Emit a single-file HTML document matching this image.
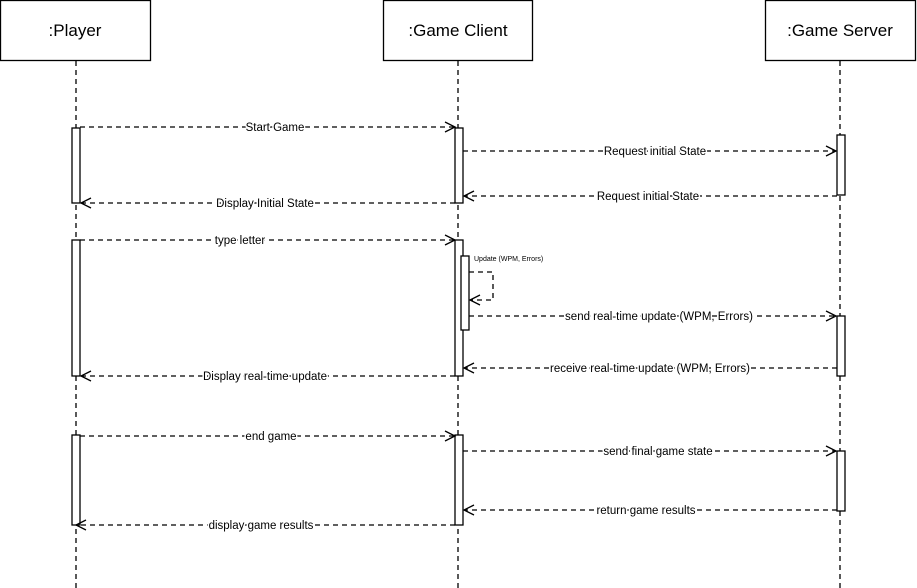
<!DOCTYPE html>
<html><head><style>body{margin:0;background:#fff}svg{display:block}</style></head>
<body>
<svg width="917" height="588" xmlns="http://www.w3.org/2000/svg" font-family="Liberation Sans, Arial, sans-serif">
<rect width="917" height="588" fill="#fff"/>
<g fill="#fff" stroke="#000" stroke-width="1.3">
<rect x="0.5" y="0.5" width="150" height="60"/>
<rect x="383.5" y="0.5" width="149" height="60"/>
<rect x="765.5" y="0.5" width="150" height="60"/>
</g>
<g font-size="17" text-anchor="middle" fill="#000">
<text x="75" y="36">:Player</text>
<text x="458" y="36">:Game Client</text>
<text x="840" y="36">:Game Server</text>
</g>
<g stroke="#000" stroke-width="1.3" stroke-dasharray="5,4">
<line x1="76" y1="61" x2="76" y2="588"/>
<line x1="458" y1="61" x2="458" y2="588"/>
<line x1="840" y1="61" x2="840" y2="588"/>
</g>
<g fill="#fff" stroke="#000" stroke-width="1.3">
<rect x="72" y="128" width="8" height="75"/>
<rect x="72" y="240" width="8" height="136"/>
<rect x="72" y="435" width="8" height="90"/>
<rect x="455" y="128" width="8" height="75"/>
<rect x="455" y="240" width="8" height="136"/>
<rect x="461" y="256" width="8" height="74"/>
<rect x="455" y="435" width="8" height="90"/>
<rect x="837" y="135" width="8" height="60"/>
<rect x="837" y="316" width="8" height="60"/>
<rect x="837" y="451" width="8" height="60"/>
</g>
<g stroke="#000" stroke-width="1.3" fill="none">
<g stroke-dasharray="5,4">
<line x1="80" y1="127" x2="454" y2="127"/>
<line x1="463" y1="151" x2="836" y2="151"/>
<line x1="837" y1="196" x2="464" y2="196"/>
<line x1="455" y1="203" x2="81" y2="203"/>
<line x1="80" y1="240" x2="454" y2="240"/>
<polyline points="469,272 493,272 493,300 470,300"/>
<line x1="469" y1="316" x2="836" y2="316"/>
<line x1="837" y1="368" x2="464" y2="368"/>
<line x1="455" y1="376" x2="81" y2="376"/>
<line x1="80" y1="436" x2="454" y2="436"/>
<line x1="463" y1="451" x2="836" y2="451"/>
<line x1="837" y1="510" x2="464" y2="510"/>
<line x1="455" y1="525" x2="76" y2="525"/>
</g>
<polyline points="445,122 455,127 445,132"/>
<polyline points="826,146 836,151 826,156"/>
<polyline points="474,191 464,196 474,201"/>
<polyline points="91,198 81,203 91,208"/>
<polyline points="445,235 455,240 445,245"/>
<polyline points="480,295 470,300 480,305"/>
<polyline points="826,311 836,316 826,321"/>
<polyline points="474,363 464,368 474,373"/>
<polyline points="91,371 81,376 91,381"/>
<polyline points="445,431 455,436 445,441"/>
<polyline points="826,446 836,451 826,456"/>
<polyline points="474,505 464,510 474,515"/>
<polyline points="86,520 76,525 86,530"/>
</g>
<g font-size="11.5" text-anchor="middle" fill="#000" stroke="#fff" stroke-width="3" paint-order="stroke" stroke-linejoin="round">
<text x="275" y="131">Start Game</text>
<text x="655" y="155">Request initial State</text>
<text x="648" y="200">Request initial State</text>
<text x="265" y="207">Display Initial State</text>
<text x="240" y="244">type letter</text>
<text x="659" y="320">send real-time update (WPM, Errors)</text>
<text x="650" y="372">receive real-time update (WPM, Errors)</text>
<text x="265" y="380">Display real-time update</text>
<text x="271" y="440">end game</text>
<text x="658" y="455">send final game state</text>
<text x="646" y="514">return game results</text>
<text x="261" y="529">display game results</text>
<text x="474" y="261" font-size="7" text-anchor="start" stroke="none">Update (WPM, Errors)</text>
</g>
</svg>
</body></html>
